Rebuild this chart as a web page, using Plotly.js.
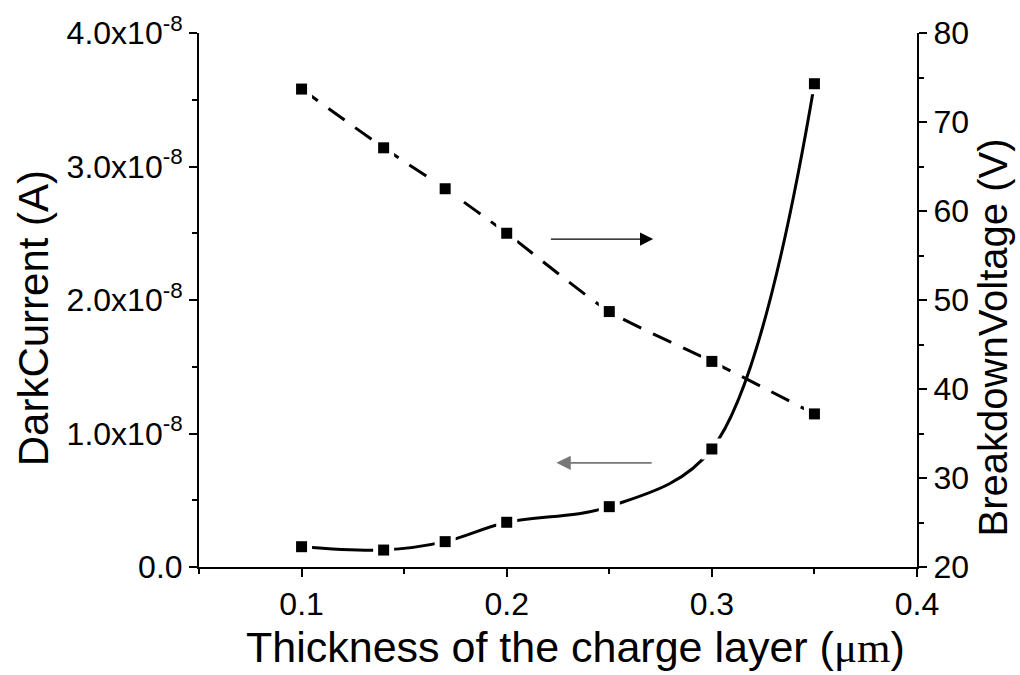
<!DOCTYPE html>
<html>
<head>
<meta charset="utf-8">
<script src="https://cdn.plot.ly/plotly-3.0.1.min.js"></script>
<style>html,body{margin:0;padding:0;background:#fff;}#chart{width:1020px;height:675px;}</style>
</head>
<body>
<div id="chart"></div>
<script>
// ---- data ----
const thickness = [0.1, 0.14, 0.17, 0.2, 0.25, 0.3, 0.35];          // µm
const darkCurrent = [1.52e-9, 1.27e-9, 1.90e-9, 3.35e-9, 4.52e-9, 8.84e-9, 3.62e-8]; // A
const breakdownVoltage = [73.7, 67.1, 62.5, 57.5, 48.7, 43.1, 37.2];  // V
const leftTickVals = [0, 1e-8, 2e-8, 3e-8, 4e-8];
const leftTickText = ['0.0', '1.0x10<sup>-8</sup>', '2.0x10<sup>-8</sup>', '3.0x10<sup>-8</sup>', '4.0x10<sup>-8</sup>'];
const xTickVals = [0.1, 0.2, 0.3, 0.4];
const xTickText = ['0.1', '0.2', '0.3', '0.4'];
const rightTickVals = [20, 30, 40, 50, 60, 70, 80];
const xTitle = 'Thickness of the charge layer (<span style="font-family:Liberation Serif, Times New Roman, serif">μm</span>)';
const leftTitle = 'DarkCurrent (A)';
const rightTitle = 'BreakdownVoltage (V)';

const FONT = 'Liberation Sans, Arial, sans-serif';

const traces = [
  {x: thickness, y: darkCurrent, xaxis: 'x', yaxis: 'y', mode: 'lines',
   line: {color: '#000', width: 3, shape: 'spline', smoothing: 1.0}, hoverinfo: 'skip'},
  {x: thickness, y: breakdownVoltage, xaxis: 'x', yaxis: 'y2', mode: 'lines',
   line: {color: '#000', width: 3, shape: 'spline', smoothing: 0.6, dash: '20px,13px'}, hoverinfo: 'skip'},
  {x: thickness, y: darkCurrent, xaxis: 'x', yaxis: 'y', mode: 'markers',
   marker: {symbol: 'square', size: 21, color: '#fff'}, hoverinfo: 'skip'},
  {x: thickness, y: breakdownVoltage, xaxis: 'x', yaxis: 'y2', mode: 'markers',
   marker: {symbol: 'square', size: 21, color: '#fff'}, hoverinfo: 'skip'},
  {x: thickness, y: darkCurrent, xaxis: 'x', yaxis: 'y', mode: 'markers',
   marker: {symbol: 'square', size: 11, color: '#000'}},
  {x: thickness, y: breakdownVoltage, xaxis: 'x', yaxis: 'y2', mode: 'markers',
   marker: {symbol: 'square', size: 11, color: '#000'}}
];

const axisCommon = {
  showgrid: false, zeroline: false, showline: true, linecolor: '#000', linewidth: 2,
  ticks: 'outside', tickcolor: '#000', tickwidth: 2, ticklen: 8,
  tickfont: {family: FONT, size: 32, color: '#000'}
};

const layout = {
  width: 1020, height: 675,
  margin: {l: 199, r: 103, t: 33, b: 108, pad: 0},
  paper_bgcolor: '#fff', plot_bgcolor: '#fff',
  showlegend: false,
  xaxis: Object.assign({}, axisCommon, {
    range: [0.05, 0.4], tickvals: xTickVals, ticktext: xTickText,
    minor: {dtick: 0.05, tick0: 0.05, ticks: 'outside', ticklen: 5, tickcolor: '#000', tickwidth: 2}
  }),
  xaxis2: {
    overlaying: 'x', side: 'top', range: [0, 10], dtick: 1, showticklabels: false,
    showgrid: false, zeroline: false, showline: true, linecolor: '#000', linewidth: 2,
    ticks: 'outside', ticklen: 4, tickwidth: 1.5, tickcolor: '#000'
  },
  yaxis: Object.assign({}, axisCommon, {
    range: [0, 4e-8], tickvals: leftTickVals, ticktext: leftTickText,
    minor: {dtick: 0.5e-8, tick0: 0, ticks: 'outside', ticklen: 5, tickcolor: '#000', tickwidth: 2}
  }),
  yaxis2: Object.assign({}, axisCommon, {
    overlaying: 'y', side: 'right', range: [20, 80], tickvals: rightTickVals,
    minor: {dtick: 5, tick0: 20, ticks: 'outside', ticklen: 5, tickcolor: '#000', tickwidth: 2}
  }),
  annotations: [
    {xref: 'x', yref: 'y2', axref: 'x', ayref: 'y2', x: 0.2714, y: 56.85, ax: 0.2208, ay: 56.85,
     text: '', showarrow: true, arrowhead: 2, arrowsize: 2.2, arrowwidth: 1.2, arrowcolor: '#000'},
    {xref: 'x', yref: 'y2', axref: 'x', ayref: 'y2', x: 0.2242, y: 31.7, ax: 0.2714, ay: 31.7,
     text: '', showarrow: true, arrowhead: 2, arrowsize: 1.6, arrowwidth: 1.8, arrowcolor: '#777'},
    {xref: 'paper', yref: 'paper', x: 0.524, y: -0.15, xanchor: 'center', yanchor: 'middle',
     text: xTitle, showarrow: false, font: {family: FONT, size: 43, color: '#000'}},
    {xref: 'paper', yref: 'paper', x: -0.231, y: 0.466, xanchor: 'center', yanchor: 'middle',
     text: leftTitle, textangle: -90, showarrow: false, font: {family: FONT, size: 42, color: '#000'}},
    {xref: 'paper', yref: 'paper', x: 1.106, y: 0.43, xanchor: 'center', yanchor: 'middle',
     text: rightTitle, textangle: -90, showarrow: false, font: {family: FONT, size: 40, color: '#000'}}
  ]
};

Plotly.newPlot('chart', traces, layout, {displayModeBar: false, staticPlot: true});
</script>
</body>
</html>
